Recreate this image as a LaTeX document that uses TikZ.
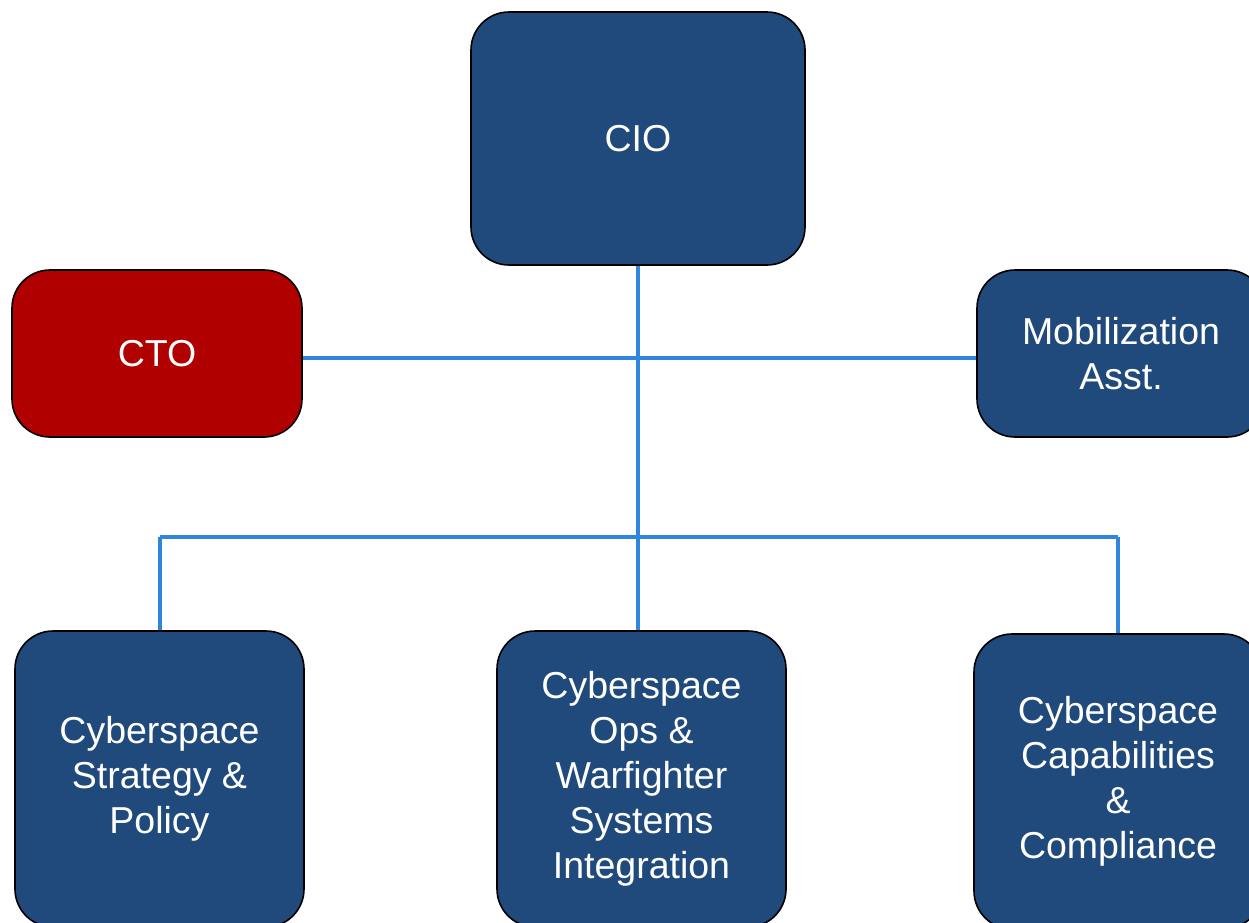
\documentclass[tikz,border=0pt]{standalone}
\usepackage{fontspec}
\setmainfont{Liberation Sans}
\definecolor{boxblue}{HTML}{204A7B}
\definecolor{boxred}{HTML}{B00000}
\definecolor{linkblue}{HTML}{2E86DE}
\begin{document}
\begin{tikzpicture}[x=1pt,y=-1pt,
  orgbox/.style={draw=black, line width=1.6pt, fill=boxblue, rounded corners=38pt,
    text=white, align=center, inner sep=0pt,
    font=\fontsize{37.5}{45}\selectfont},
  link/.style={draw=linkblue, line width=4.5pt}]
\useasboundingbox (0,0) rectangle (1249,922);
\begin{scope}
\clip (0,0) rectangle (1249,922);
\node[orgbox, minimum width=334pt, minimum height=253pt] (cio) at (638,138.5) {CIO};
\node[orgbox, fill=boxred, minimum width=290pt, minimum height=167pt] (cto) at (157,353.5) {CTO};
\node[orgbox, minimum width=288pt, minimum height=167pt] (mob) at (1121,353.5) {Mobilization\\Asst.};
\node[orgbox, minimum width=289pt, minimum height=296pt] (csp) at (159.5,779) {Cyberspace\\Strategy \&\\Policy};
\node[orgbox, minimum width=289pt, minimum height=296pt] (cow) at (641.5,779) {Cyberspace\\Ops \&\\Warfighter\\Systems\\Integration};
\node[orgbox, minimum width=288pt, minimum height=295pt] (ccc) at (1118,781.5) {Cyberspace\\Capabilities\\\&\\Compliance};
\end{scope}
\coordinate (midline) at (638,358);
\coordinate (busl) at (160,537);
\coordinate (busr) at (1118,537);
\draw[link] (cio.south -| midline) -- (midline |- cow.north);
\draw[link] (cto.east |- midline) -- (mob.west |- midline);
\draw[link] (busl) -- (busr);
\draw[link] (busl) -- (busl |- csp.north);
\draw[link] (busr) -- (busr |- ccc.north);
\end{tikzpicture}
\end{document}
